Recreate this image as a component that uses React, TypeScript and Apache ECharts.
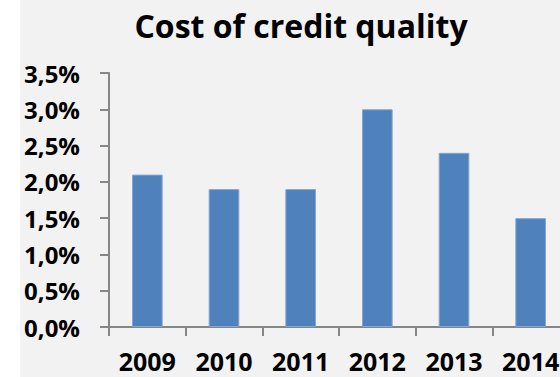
import React, { useEffect, useRef } from "react";
import * as echarts from "echarts";

const titleText = "Cost of credit quality";
const categories = ["2009", "2010", "2011", "2012", "2013", "2014"];
const costValues = [2.1, 1.9, 1.9, 3.0, 2.4, 1.5];
const yMin = 0;
const yMax = 3.5;
const yInterval = 0.5;

export default function App() {
  const ref = useRef<HTMLDivElement>(null);
  useEffect(() => {
    if (!ref.current) return;
    const chart = echarts.init(ref.current, undefined, { renderer: "svg" });
    const font = "'Open Sans', 'Noto Sans', sans-serif";
    chart.setOption({
      animation: false,
      backgroundColor: "#ffffff",
      graphic: [
        {
          type: "rect",
          z: -10,
          silent: true,
          shape: { x: 20, y: 0, width: 560, height: 377 },
          style: { fill: "#f2f2f2" },
        },
      ],
      title: {
        text: titleText,
        left: 296,
        top: 4,
        textAlign: "center",
        textStyle: { fontFamily: font, fontWeight: "bold", fontSize: 32, color: "#000000" },
      },
      grid: { left: 109, top: 73, bottom: 50, right: 1, containLabel: false },
      xAxis: {
        type: "category",
        data: categories,
        axisLine: { lineStyle: { color: "#868686", width: 2 } },
        axisTick: { show: true, length: 9, lineStyle: { color: "#868686", width: 2 } },
        axisLabel: {
          interval: 0,
          fontFamily: font,
          fontWeight: "bold",
          fontSize: 25,
          color: "#000000",
          margin: 21,
        },
      },
      yAxis: {
        type: "value",
        min: yMin,
        max: yMax,
        interval: yInterval,
        axisLine: { show: true, lineStyle: { color: "#868686", width: 2 } },
        axisTick: { show: true, length: 9, lineStyle: { color: "#868686", width: 2 } },
        splitLine: { show: false },
        axisLabel: {
          fontFamily: font,
          fontWeight: "bold",
          fontSize: 24,
          color: "#000000",
          margin: 29,
          formatter: (v: number) => v.toFixed(1).replace(".", ",") + "%",
        },
      },
      series: [
        {
          type: "bar",
          data: costValues,
          barWidth: "40%",
          itemStyle: { color: "#4f81bd", borderColor: "#84a6d3", borderWidth: 1 },
        },
      ],
    });
    return () => chart.dispose();
  }, []);
  return (
    <div
      ref={ref}
      style={{ position: "fixed", left: 0, top: 0, width: 570, height: 377 }}
    />
  );
}
